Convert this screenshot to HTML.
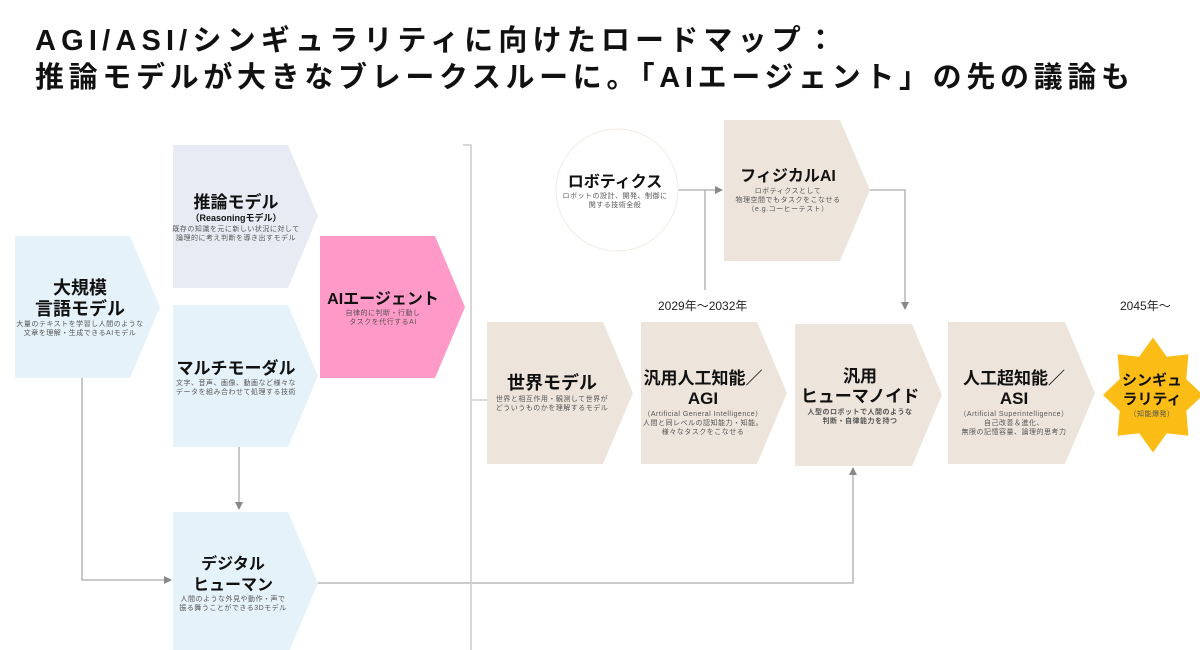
<!DOCTYPE html>
<html><head><meta charset="utf-8"><style>
html,body{margin:0;padding:0;background:#fff;}
svg{display:block;font-family:"Liberation Sans","Noto Sans CJK JP",sans-serif;}
.t{font-weight:bold;fill:#111;text-anchor:middle;}
.s{fill:#555;text-anchor:middle;font-size:7px;letter-spacing:0.5px;}
</style></head><body>
<svg width="1200" height="650" viewBox="0 0 1200 650" xmlns="http://www.w3.org/2000/svg">
<defs>
<marker id="ar" markerWidth="8" markerHeight="8" refX="7" refY="4" orient="auto" markerUnits="userSpaceOnUse">
<path d="M0,0 L8,4 L0,8 Z" fill="#888"/></marker>
</defs>
<rect x="0" y="0" width="1200" height="650" fill="#fff"/>
<text x="35" y="50" font-size="29" font-weight="bold" fill="#111" textLength="800" lengthAdjust="spacing">AGI/ASI/シンギュラリティに向けたロードマップ：</text>
<text x="35" y="87" font-size="29" font-weight="bold" fill="#111" textLength="1095" lengthAdjust="spacing">推論モデルが大きなブレークスルーに。「AIエージェント」の先の議論も</text>

<g stroke="#aaa" stroke-width="1.3" fill="none">
<polyline points="82,378 82,580 171,580" marker-end="url(#ar)"/>
<line x1="239" y1="447" x2="239" y2="509" marker-end="url(#ar)"/>
<polyline points="318,583 853,583 853,468" marker-end="url(#ar)"/>
<line x1="674" y1="190" x2="722" y2="190" marker-end="url(#ar)"/>
<line x1="705" y1="190" x2="705" y2="290"/>
<polyline points="870,190 905,190 905,309" marker-end="url(#ar)"/>
</g>
<g stroke="#ccc" stroke-width="1.5" fill="none">
<polyline points="463,145 471,145 471,650"/>
<line x1="471" y1="400" x2="487" y2="400"/>
</g>

<polygon points="15,236 130,236 160,307 130,378 15,378" fill="#e6f2fa"/>
<polygon points="173,145 288,145 318,216 288,288 173,288" fill="#e8ebf3"/>
<polygon points="173,305 288,305 318,376 288,447 173,447" fill="#e6f2fa"/>
<polygon points="320,236 435,236 465,307 435,378 320,378" fill="#ff99c8"/>
<polygon points="173,512 288,512 318,583 288,654 173,654" fill="#e6f2fa"/>

<text class="t" x="80" y="294" font-size="18">大規模</text>
<text class="t" x="80" y="315" font-size="18">言語モデル</text>
<text class="s" x="80" y="326">大量のテキストを学習し人間のような</text>
<text class="s" x="80" y="335">文章を理解・生成できるAIモデル</text>

<text class="t" x="236" y="208" font-size="17">推論モデル</text>
<text class="t" x="236" y="221" font-size="9" font-weight="normal" fill="#333">（Reasoningモデル）</text>
<text class="s" x="236" y="231">既存の知識を元に新しい状況に対して</text>
<text class="s" x="236" y="240">論理的に考え判断を導き出すモデル</text>

<text class="t" x="236" y="374" font-size="17">マルチモーダル</text>
<text class="s" x="236" y="385">文字、音声、画像、動画など様々な</text>
<text class="s" x="236" y="394">データを組み合わせて処理する技術</text>

<text class="t" x="383" y="304" font-size="16">AIエージェント</text>
<text class="s" x="383" y="315">自律的に判断・行動し</text>
<text class="s" x="383" y="324">タスクを代行するAI</text>

<text class="t" x="233" y="569" font-size="16">デジタル</text>
<text class="t" x="233" y="590" font-size="16">ヒューマン</text>
<text class="s" x="233" y="601">人間のような外見や動作・声で</text>
<text class="s" x="233" y="610">振る舞うことができる3Dモデル</text>

<circle cx="617" cy="190" r="61" fill="#fff" stroke="#f1ebe3" stroke-width="1"/>
<text class="t" x="615" y="187" font-size="16">ロボティクス</text>
<text class="s" x="615" y="198">ロボットの設計、開発、制御に</text>
<text class="s" x="615" y="207">関する技術全般</text>

<polygon points="724,120 840,120 870,190 840,261 724,261" fill="#ede5dc"/>
<text class="t" x="788" y="181" font-size="16">フィジカルAI</text>
<text class="s" x="788" y="193">ロボティクスとして</text>
<text class="s" x="788" y="202">物理空間でもタスクをこなせる</text>
<text class="s" x="788" y="211">（e.g.コーヒーテスト）</text>

<text x="658" y="310" font-size="12" fill="#222">2029年〜2032年</text>
<text x="1120" y="310" font-size="12" fill="#222">2045年〜</text>

<polygon points="487,322 603,322 633,393 603,464 487,464" fill="#ede5dc"/>
<polygon points="641,322 757,322 787,393 757,464 641,464" fill="#ede5dc"/>
<polygon points="795,324 912,324 942,395 912,466 795,466" fill="#ede5dc"/>
<polygon points="948,322 1065,322 1095,393 1065,464 948,464" fill="#ede5dc"/>

<text class="t" x="552" y="389" font-size="18">世界モデル</text>
<text class="s" x="552" y="401">世界と相互作用・観測して世界が</text>
<text class="s" x="552" y="410">どういうものかを理解するモデル</text>

<text class="t" x="703" y="384" font-size="17">汎用人工知能／</text>
<text class="t" x="703" y="404" font-size="17">AGI</text>
<text class="s" x="703" y="416" font-size="6.5">（Artificial General Intelligence）</text>
<text class="s" x="703" y="425">人間と同レベルの認知能力・知能。</text>
<text class="s" x="703" y="434">様々なタスクをこなせる</text>

<text class="t" x="860" y="382" font-size="17">汎用</text>
<text class="t" x="860" y="402" font-size="17">ヒューマノイド</text>
<text class="s" x="860" y="414" fill="#222" font-weight="bold">人型のロボットで人間のような</text>
<text class="s" x="860" y="423" fill="#222" font-weight="bold">判断・自律能力を持つ</text>

<text class="t" x="1014" y="384" font-size="17">人工超知能／</text>
<text class="t" x="1014" y="404" font-size="17">ASI</text>
<text class="s" x="1014" y="416" font-size="6.5">（Artificial Superintelligence）</text>
<text class="s" x="1014" y="425">自己改善＆進化、</text>
<text class="s" x="1014" y="434">無限の記憶容量、論理的思考力</text>

<g transform="translate(1153,395) scale(1,1.15)">
<polygon points="0,-50 13.8,-33.3 35.4,-35.4 33.3,-13.8 50,0 33.3,13.8 35.4,35.4 13.8,33.3 0,50 -13.8,33.3 -35.4,35.4 -33.3,13.8 -50,0 -33.3,-13.8 -35.4,-35.4 -13.8,-33.3" fill="#fbbc16"/>
</g>
<text class="t" x="1152" y="385" font-size="15">シンギュ</text>
<text class="t" x="1152" y="404" font-size="15">ラリティ</text>
<text class="s" x="1152" y="416">（知能爆発）</text>
</svg>
</body></html>
